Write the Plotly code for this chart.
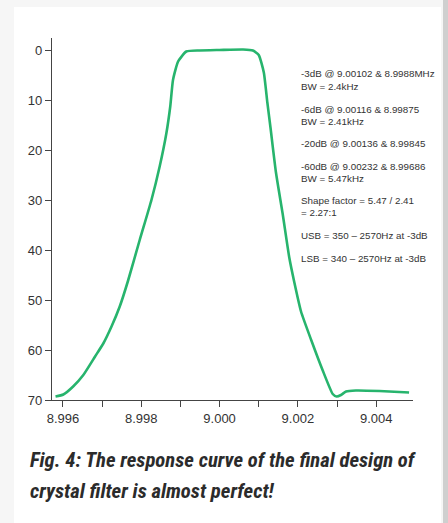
import plotly.graph_objects as go

# ---- data ----
freq_mhz = [8.99581, 8.99601, 8.99626, 8.99652, 8.99682, 8.99703, 8.99724, 8.99745,
            8.99766, 8.99796, 8.99826, 8.99847, 8.99864, 8.99874, 8.99881, 8.99894,
            8.99915, 8.99949, 9.00000, 9.00060, 9.00085, 9.00100, 9.00113, 9.00122,
            9.00130, 9.00144, 9.00161, 9.00178, 9.00191, 9.00208, 9.00234, 9.00263,
            9.00289, 9.00299, 9.00310, 9.00323, 9.00348, 9.00408, 9.00484]
atten_db = [69.3, 68.9, 67.3, 65.0, 61.3, 58.7, 55.3, 51.3,
            46.2, 38.0, 30.0, 23.3, 16.7, 11.3, 6.0, 2.3,
            0.3, 0.1, 0.0, -0.1, 0.1, 1.0, 4.5, 10.5,
            15.5, 24.5, 32.7, 41.5, 46.5, 52.3, 58.0, 64.0,
            68.8, 69.3, 69.0, 68.3, 68.1, 68.2, 68.5]

x_tickvals = [8.996, 8.998, 9.000, 9.002, 9.004]
x_ticktext = ["8.996", "8.998", "9.000", "9.002", "9.004"]
y_tickvals = [0, 10, 20, 30, 40, 50, 60, 70]

notes = [
    "-3dB @ 9.00102 & 8.9988MHz", "BW = 2.4kHz",
    "-6dB @ 9.00116 & 8.99875", "BW = 2.41kHz",
    "-20dB @ 9.00136 & 8.99845",
    "-60dB @ 9.00232 & 8.99686", "BW = 5.47kHz",
    "Shape factor = 5.47 / 2.41", "= 2.27:1",
    "USB = 350 \u2013 2570Hz at -3dB",
    "LSB = 340 \u2013 2570Hz at -3dB",
]
note_y_px = [73, 86, 109, 121, 143, 166, 178, 200, 212, 235, 258]

caption = ["Fig. 4: The response curve of the final design of",
           "crystal filter is almost perfect!"]
caption_y_px = [460, 491]

# ---- layout geometry ----
W, H = 448, 523
L, R, T, B = 52, 35, 38, 123
pw, ph = W - L - R, H - T - B

def px(xp):
    return (xp - L) / pw

def py(yp):
    return (H - B - yp) / ph

GREEN = "#27b46d"
TXT = "#333333"

fig = go.Figure()
fig.add_trace(go.Scatter(
    x=freq_mhz, y=atten_db, mode="lines",
    line=dict(color=GREEN, width=2.6, shape="spline", smoothing=0.5),
    hoverinfo="skip", showlegend=False,
))

shapes = [
    dict(type="rect", xref="paper", yref="paper", x0=px(14), x1=px(441), y0=py(523), y1=py(7),
         fillcolor="white", line=dict(width=0), layer="below"),
    dict(type="rect", xref="paper", yref="paper", x0=px(443), x1=px(448), y0=py(523), y1=py(0),
         fillcolor="#cfcfcf", line=dict(width=0), layer="below"),
]

annotations = []
for t, yp in zip(notes, note_y_px):
    annotations.append(dict(
        text=t, xref="paper", yref="paper", x=px(299), y=py(yp),
        xanchor="left", yanchor="middle", showarrow=False,
        font=dict(family="Liberation Sans, Arial, sans-serif", size=9.8, color=TXT),
    ))
for t, yp in zip(caption, caption_y_px):
    annotations.append(dict(
        text="<b><i>" + t + "</i></b>", xref="paper", yref="paper", x=px(28), y=py(yp),
        xanchor="left", yanchor="middle", showarrow=False,
        font=dict(family="Liberation Sans Narrow, Roboto Condensed, Liberation Sans, sans-serif",
                  size=20.7, color="#2b2b2b"),
    ))

fig.update_layout(
    width=W, height=H,
    margin=dict(l=L, r=R, t=T, b=B, pad=0),
    paper_bgcolor="#f6f6f6",
    plot_bgcolor="rgba(0,0,0,0)",
    shapes=shapes,
    annotations=annotations,
    font=dict(family="Liberation Sans, Arial, sans-serif", color=TXT, size=13),
)
fig.update_xaxes(
    range=[8.99572, 9.00494], showgrid=False, zeroline=False,
    showline=True, linecolor="#444444", linewidth=1.2,
    tickmode="array", tickvals=x_tickvals, ticktext=x_ticktext,
    ticks="outside", ticklen=6, tickcolor="#444444", tickwidth=1.2,
    minor=dict(dtick=0.001, tick0=8.996, ticks="outside", ticklen=6,
               tickcolor="#444444", tickwidth=1.2, showgrid=False),
    tickfont=dict(size=13, color=TXT),
)
fig.update_yaxes(
    range=[70, -2.4], showgrid=False, zeroline=False,
    showline=True, linecolor="#444444", linewidth=1.2,
    tickmode="array", tickvals=y_tickvals,
    ticks="outside", ticklen=6, tickcolor="#444444", tickwidth=1.2,
    tickfont=dict(size=13, color=TXT),
)

fig.write_html("out.html", config={"displayModeBar": False},
               post_script="document.body.style.margin='0';")
